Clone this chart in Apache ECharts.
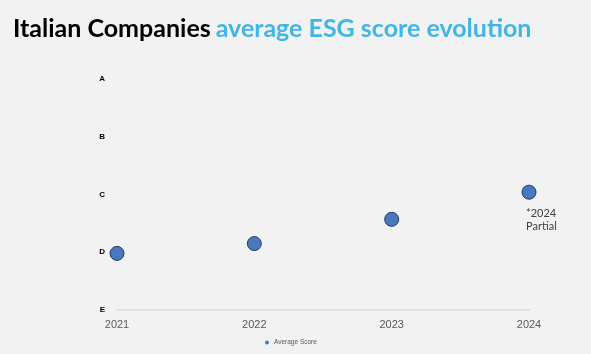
<!DOCTYPE html>
<html style="height: 100%;">
<head>
<meta charset="utf-8">
<title>Italian Companies ESG</title>
<script src="https://cdn.jsdelivr.net/npm/echarts@6/dist/echarts.min.js"></script>
</head>
<body style="margin: 0; height: 100%; background: #f2f2f2;">
<div id="chart" style="width: 591px; height: 354px;"></div>
<script>
// anni e punteggio medio (0 = E ... 4 = A)
var years = [2021, 2022, 2023, 2024];
var scores = [0.98, 1.15, 1.57, 2.04];
var grades = ['E', 'D', 'C', 'B', 'A'];

var chart = echarts.init(document.getElementById('chart'));

var points = years.map(function (y, i) {
    return [y, scores[i]];
});
// nota sul 2024 parziale
points[3] = {
    value: points[3],
    label: {
        show: true,
        position: 'bottom',
        align: 'left',
        offset: [-3, 2],
        formatter: '*2024\nPartial',
        color: '#404040',
        fontSize: 11,
        lineHeight: 13,
        fontFamily: 'Lato'
    }
};

chart.setOption({
    backgroundColor: '#f2f2f2',
    title: {
        left: 8,
        top: 11,
        text: '{a|Italian Companies} {b|average ESG score evolution}',
        textStyle: {
            rich: {
                a: { fontSize: 25, fontWeight: 'bold', color: '#000', fontFamily: 'Lato' },
                b: { fontSize: 25, fontWeight: 'bold', color: '#41b6e6', fontFamily: 'Lato' }
            }
        }
    },
    legend: {
        bottom: 3,
        left: 260,
        itemWidth: 4,
        itemHeight: 4,
        itemGap: 4,
        icon: 'circle',
        itemStyle: { borderWidth: 0 },
        textStyle: { fontSize: 6.5, color: '#595959', fontFamily: 'Liberation Sans' },
        data: ['Average Score']
    },
    grid: { left: 117, right: 62, top: 79, bottom: 44 },
    xAxis: {
        type: 'value',
        min: 2021,
        max: 2024,
        interval: 1,
        splitLine: { show: false },
        axisTick: { show: false },
        axisLine: { lineStyle: { color: '#d9d9d9', width: 1.5 } },
        axisLabel: {
            color: '#595959',
            fontSize: 11,
            margin: 9,
            fontFamily: 'Liberation Sans',
            formatter: function (v) { return String(v); }
        }
    },
    yAxis: {
        type: 'value',
        min: 0,
        max: 4,
        interval: 1,
        splitLine: { show: false },
        axisLine: { show: false },
        axisTick: { show: false },
        axisLabel: {
            color: '#000',
            fontSize: 8,
            fontWeight: 'bold',
            margin: 12,
            fontFamily: 'Liberation Sans',
            formatter: function (v) { return grades[v]; }
        }
    },
    series: [{
        name: 'Average Score',
        type: 'scatter',
        symbolSize: 14,
        itemStyle: { color: '#4a78c0', borderColor: '#223a5e', borderWidth: 1, opacity: 1 },
        data: points
    }]
});
</script>
</body>
</html>
